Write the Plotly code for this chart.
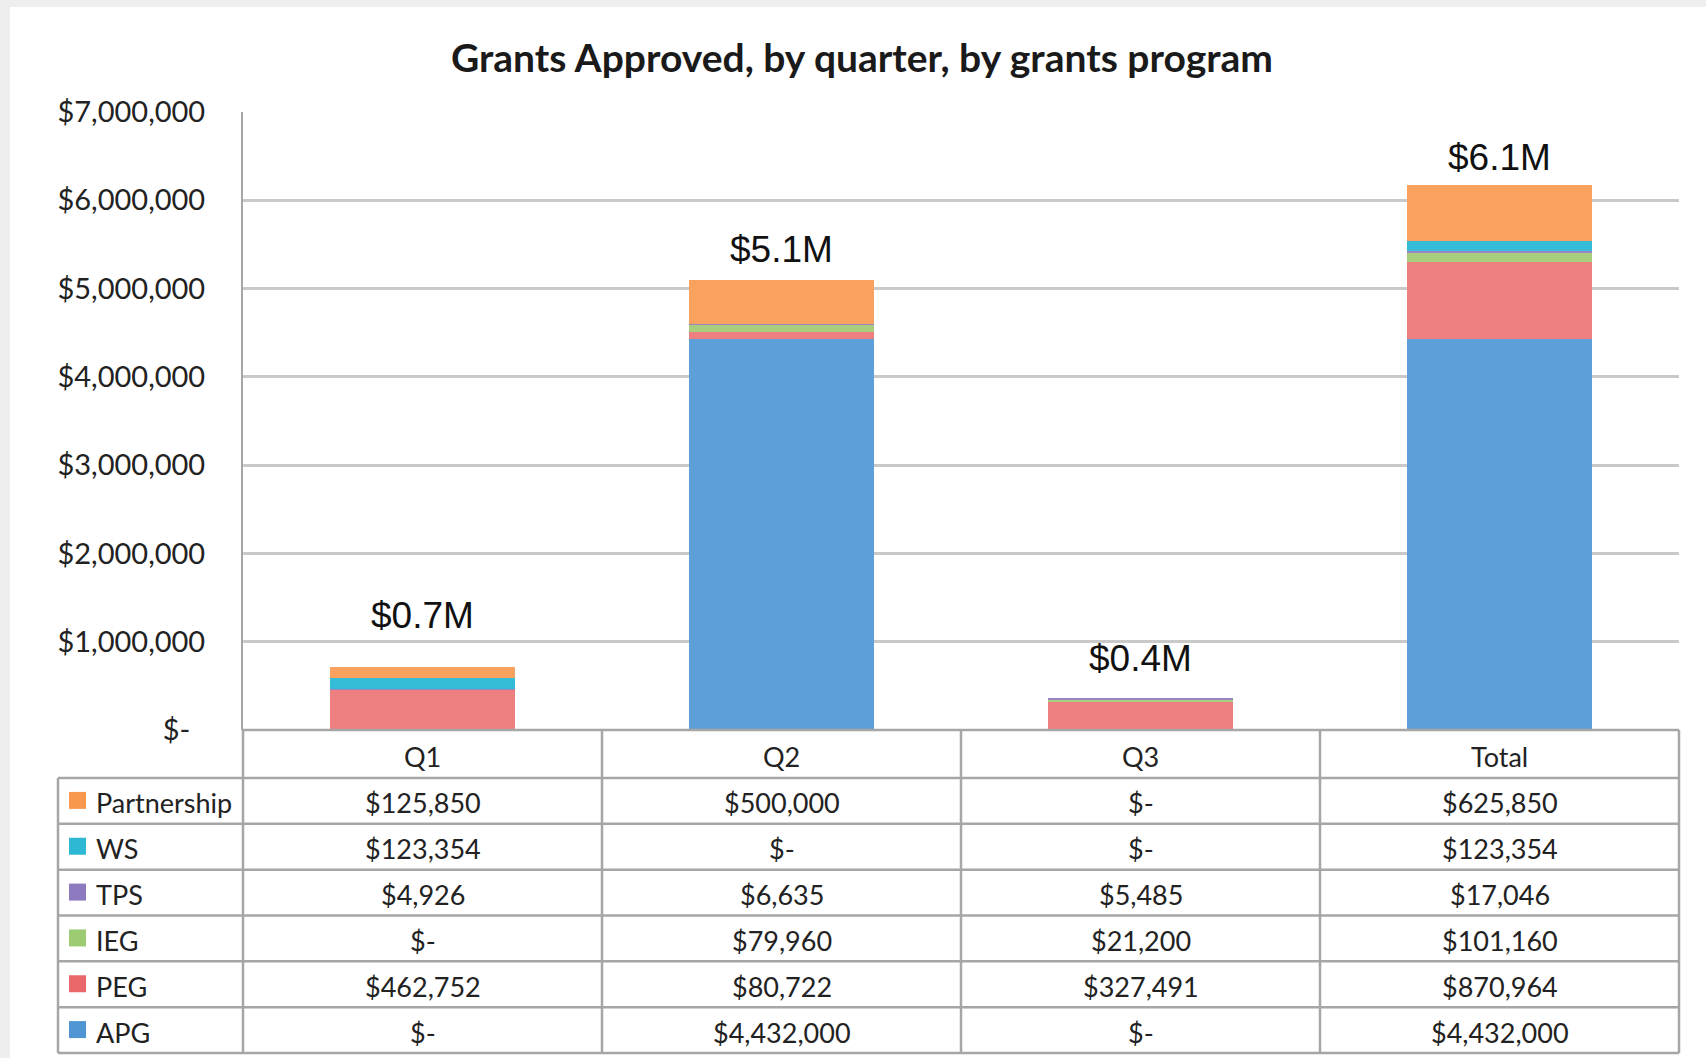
import plotly.graph_objects as go

W, H = 1706, 1058

categories = ["Q1", "Q2", "Q3", "Total"]
series_names = ["APG", "PEG", "IEG", "TPS", "WS", "Partnership"]  # bottom -> top
apg = [0, 4432000, 0, 4432000]
peg = [462752, 80722, 327491, 870964]
ieg = [0, 79960, 21200, 101160]
tps = [4926, 6635, 5485, 17046]
ws = [123354, 0, 0, 123354]
partnership = [125850, 500000, 0, 625850]
bar_labels = ["$0.7M", "$5.1M", "$0.4M", "$6.1M"]

y_ticks = [0, 1000000, 2000000, 3000000, 4000000, 5000000, 6000000, 7000000]

series_values = [apg, peg, ieg, tps, ws, partnership]
colors = ["#5d9fd8", "#ee7f81", "#a8cd7c", "#9a84c4", "#35bcd6", "#f9a25f"]
key_colors = ["#4f95d4", "#e8686b", "#9ccb74", "#8e7bbf", "#2fb8d4", "#f8984f"]
label_shift = [51, 30, 40, 28]

FONT = "Lato"
GRID = "#c9c9c9"
LINE = "#a6a6a6"

# layout geometry (pixels)
PLOT_L, PLOT_R, PLOT_T, PLOT_B = 243, 1679, 112, 730
TAB_L, HEAD_B, TAB_B = 58, 778, 1053


def px_x(p):
    return p / W


def px_y(p):
    return 1 - p / H


def money(v):
    return "$-" if v == 0 else "${:,.0f}".format(v)


fig = go.Figure()

for name, vals, col in zip(series_names, series_values, colors):
    fig.add_trace(go.Bar(
        x=categories, y=vals, name=name,
        marker=dict(color=col, line=dict(width=0)),
        showlegend=False, hoverinfo="x+y+name",
    ))

totals = [sum(s[i] for s in series_values) for i in range(len(categories))]
annotations = []
for cat, tot, lab, sh in zip(categories, totals, bar_labels, label_shift):
    annotations.append(dict(
        x=cat, y=tot, text=lab, showarrow=False, yanchor="middle", yshift=sh,
        font=dict(family="Liberation Sans, Arial", size=37, color="#111"),
        xref="x", yref="y",
    ))

# ---- data table drawn with shapes + annotations ----
shapes = [
    dict(type="rect", xref="paper", yref="paper",
         x0=px_x(10), x1=1, y0=0, y1=px_y(7),
         fillcolor="white", line=dict(width=0), layer="below"),
]
ncol = len(categories)
col_w = (PLOT_R - PLOT_L) / ncol
nrow = len(series_names)
row_h = (TAB_B - HEAD_B) / nrow
line_style = dict(color=LINE, width=2.5)

# horizontal lines
shapes.append(dict(type="line", xref="paper", yref="paper",
                   x0=px_x(PLOT_L), x1=px_x(PLOT_R), y0=px_y(PLOT_B), y1=px_y(PLOT_B),
                   line=line_style))
for r in range(nrow + 1):
    yy = HEAD_B + r * row_h
    shapes.append(dict(type="line", xref="paper", yref="paper",
                       x0=px_x(TAB_L), x1=px_x(PLOT_R), y0=px_y(yy), y1=px_y(yy),
                       line=line_style))
# vertical lines
shapes.append(dict(type="line", xref="paper", yref="paper",
                   x0=px_x(TAB_L), x1=px_x(TAB_L), y0=px_y(HEAD_B), y1=px_y(TAB_B),
                   line=line_style))
for c in range(ncol + 1):
    xx = PLOT_L + c * col_w
    shapes.append(dict(type="line", xref="paper", yref="paper",
                       x0=px_x(xx), x1=px_x(xx), y0=px_y(PLOT_B), y1=px_y(TAB_B),
                       line=line_style))

cell_font = dict(family=FONT, size=27, color="#222")
# header
for c, cat in enumerate(categories):
    annotations.append(dict(
        x=px_x(PLOT_L + (c + 0.5) * col_w), y=px_y((PLOT_B + HEAD_B) / 2 + 2),
        xref="paper", yref="paper", text=cat, showarrow=False,
        xanchor="center", yanchor="middle", font=cell_font,
    ))

table_order = list(reversed(range(nrow)))  # Partnership on top
for r, si in enumerate(table_order):
    yc = HEAD_B + (r + 0.5) * row_h + 2
    # legend key
    shapes.append(dict(type="rect", xref="paper", yref="paper",
                       x0=px_x(69), x1=px_x(86), y0=px_y(yc - 11), y1=px_y(yc + 6),
                       fillcolor=key_colors[si], line=dict(width=0)))
    annotations.append(dict(
        x=px_x(94), y=px_y(yc), xref="paper", yref="paper",
        text=series_names[si], showarrow=False,
        xanchor="left", yanchor="middle", font=cell_font,
    ))
    for c in range(ncol):
        annotations.append(dict(
            x=px_x(PLOT_L + (c + 0.5) * col_w), y=px_y(yc),
            xref="paper", yref="paper", text=money(series_values[si][c]),
            showarrow=False, xanchor="center", yanchor="middle", font=cell_font,
        ))

fig.update_layout(
    width=W, height=H, autosize=False,
    margin=dict(l=0, r=0, t=0, b=0, autoexpand=False),
    paper_bgcolor="#eeeeee",
    plot_bgcolor="white",
    barmode="stack",
    bargap=0.485,
    title=dict(
        text="<b>Grants Approved, by quarter, by grants program</b>",
        x=px_x(862), xanchor="center", y=px_y(58), yanchor="middle",
        font=dict(family=FONT, size=39, color="#1a1a1a"),
    ),
    xaxis=dict(
        domain=[px_x(PLOT_L), px_x(PLOT_R)],
        showticklabels=False, showgrid=False, zeroline=False,
        showline=False, ticks="", automargin=False,
    ),
    yaxis=dict(
        domain=[px_y(PLOT_B), px_y(PLOT_T)],
        range=[0, 7000000],
        tickvals=y_ticks,
        ticktext=[("$-" + "\u00a0" * 2) if v == 0 else money(v) for v in y_ticks],
        tickfont=dict(family=FONT, size=29, color="#222"),
        showgrid=True, gridcolor=GRID, gridwidth=2.5,
        zeroline=False,
        showline=True, linecolor=LINE, linewidth=2,
        ticks="", ticklabelstandoff=30, automargin=False,
    ),
    shapes=shapes,
    annotations=annotations,
)

fig.write_html("out.html")
